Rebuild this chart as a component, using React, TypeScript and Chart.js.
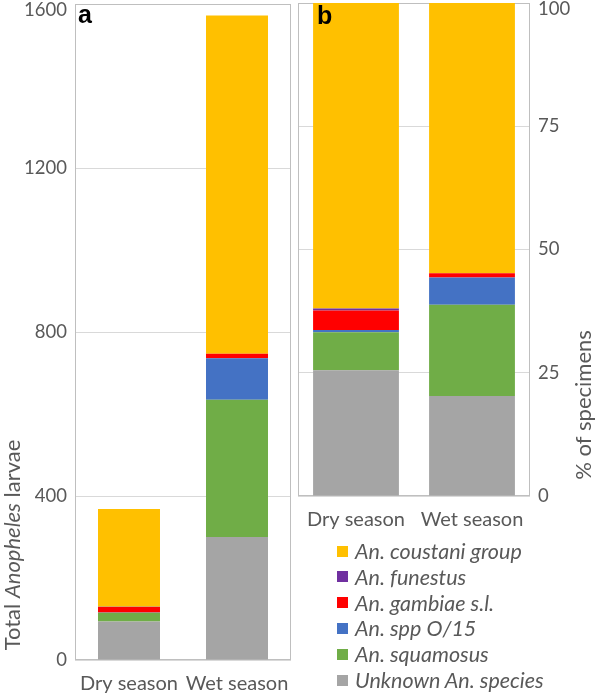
import React, { useEffect, useRef } from 'react';
import { Chart, registerables } from 'chart.js';

Chart.register(...registerables);

// ---------- data ----------
const seasons = ['Dry season', 'Wet season'];

// stack order: bottom -> top
const seriesNames = [
  'Unknown An. species',
  'An. squamosus',
  'An. spp O/15',
  'An. gambiae s.l.',
  'An. funestus',
  'An. coustani group',
];
const seriesColors = ['#A5A5A5', '#70AD47', '#4472C4', '#FF0000', '#7030A0', '#FFC000'];

// panel a: total larvae [dry, wet]
const unknownCounts = [94, 300];
const squamosusCounts = [21, 335];
const sppCounts = [1, 101];
const gambiaeCounts = [13, 11];
const funestusCounts = [1, 0];
const coustaniCounts = [238, 825];

// panel b: % of specimens [dry, wet]
const unknownPct = [25.5, 20.3];
const squamosusPct = [7.7, 18.5];
const sppPct = [0.45, 5.5];
const gambiaePct = [4.0, 0.9];
const funestusPct = [0.4, 0];
const coustaniPct = [61.95, 54.8];

const countTicks = [0, 400, 800, 1200, 1600];
const pctTicks = [0, 25, 50, 75, 100];

const countSeries = [unknownCounts, squamosusCounts, sppCounts, gambiaeCounts, funestusCounts, coustaniCounts];
const pctSeries = [unknownPct, squamosusPct, sppPct, gambiaePct, funestusPct, coustaniPct];

// ---------- style ----------
const FONT = 'Lato, "Noto Sans", sans-serif';
const TEXT = '#595959';
const GRID = '#D9D9D9';
const FRAME = '#BFBFBF';
const YTICK_SIZE = 18.5;
const XTICK_SIZE = 20;

type TitlePart = [string, boolean];

interface PanelSpec {
  series: number[][];
  ticks: number[];
  side: 'left' | 'right';
  barFrac: number;
  pad: { top: number; left: number; right: number; bottom: number };
  yWidth: number;
  xHeight: number;
  letter: string;
  letterX: number;
  letterY: number;
  title: TitlePart[];
  titleX: number;
  titleY: number;
  titleSize: number;
}

function buildConfig(spec: PanelSpec): any {
  const max = spec.ticks[spec.ticks.length - 1];
  const frame = {
    id: 'frame',
    beforeDatasetsDraw(chart: any) {
      const { ctx, chartArea: a } = chart;
      ctx.save();
      ctx.strokeStyle = FRAME;
      ctx.lineWidth = 1;
      ctx.strokeRect(Math.round(a.left) + 0.5, Math.round(a.top) + 0.5, Math.round(a.width) - 1, Math.round(a.height) - 1);
      ctx.restore();
    },
  };
  const texts = {
    id: 'texts',
    afterDraw(chart: any) {
      const ctx = chart.ctx;
      ctx.save();
      // panel letter
      ctx.fillStyle = '#000000';
      ctx.font = 'bold 25px "Liberation Sans", Arial, sans-serif';
      ctx.textAlign = 'left';
      ctx.textBaseline = 'alphabetic';
      ctx.fillText(spec.letter, spec.letterX, spec.letterY);
      // axis title (rotated, mixed italic)
      ctx.translate(spec.titleX, spec.titleY);
      ctx.rotate(-Math.PI / 2);
      ctx.fillStyle = TEXT;
      const fontFor = (it: boolean) => `${it ? 'italic ' : ''}${spec.titleSize}px ${FONT}`;
      let total = 0;
      for (const [s, it] of spec.title) {
        ctx.font = fontFor(it);
        total += ctx.measureText(s).width;
      }
      let x = -total / 2;
      for (const [s, it] of spec.title) {
        ctx.font = fontFor(it);
        ctx.fillText(s, x, 0);
        x += ctx.measureText(s).width;
      }
      ctx.restore();
    },
  };
  return {
    type: 'bar',
    data: {
      labels: seasons,
      datasets: spec.series.map((vals, i) => ({
        label: seriesNames[i],
        data: vals,
        backgroundColor: seriesColors[i],
        borderWidth: 0,
        barPercentage: spec.barFrac,
        categoryPercentage: 1,
      })),
    },
    options: {
      responsive: false,
      animation: false,
      devicePixelRatio: 1,
      layout: { padding: spec.pad },
      plugins: { legend: { display: false }, tooltip: { enabled: false }, title: { display: false } },
      scales: {
        x: {
          stacked: true,
          grid: { display: false, drawTicks: false },
          border: { display: false },
          ticks: { color: TEXT, font: { family: FONT, size: XTICK_SIZE }, padding: 12, maxRotation: 0 },
          afterFit(s: any) {
            s.height = spec.xHeight;
            s.paddingLeft = 0;
            s.paddingRight = 0;
          },
        },
        y: {
          stacked: true,
          position: spec.side,
          min: 0,
          max,
          grid: { color: GRID, lineWidth: 1, drawTicks: false },
          border: { display: false },
          afterBuildTicks(s: any) {
            s.ticks = spec.ticks.map((v) => ({ value: v }));
          },
          ticks: {
            color: TEXT,
            padding: 8,
            font: (c: any) => ({
              family: FONT,
              size: YTICK_SIZE,
              lineHeight: c.tick && c.tick.value === max ? 0.6 : 1.2,
            }),
            callback: (v: any) => (v === max ? ['', String(v)] : String(v)),
          },
          afterFit(s: any) {
            s.width = spec.yWidth;
            s.paddingTop = 0;
            s.paddingBottom = 0;
          },
        },
      },
    },
    plugins: [frame, texts],
  };
}

const panelA: PanelSpec = {
  series: countSeries,
  ticks: countTicks,
  side: 'left',
  barFrac: 0.574,
  pad: { top: 4, left: 0, right: 4, bottom: 0 },
  yWidth: 75,
  xHeight: 35,
  letter: 'a',
  letterX: 78,
  letterY: 23,
  title: [
    ['Total ', false],
    ['Anopheles', true],
    [' larvae', false],
  ],
  titleX: 20,
  titleY: 545,
  titleSize: 22,
};

const panelB: PanelSpec = {
  series: pctSeries,
  ticks: pctTicks,
  side: 'right',
  barFrac: 0.74,
  pad: { top: 3, left: 3, right: 0, bottom: 0 },
  yWidth: 67,
  xHeight: 199,
  letter: 'b',
  letterX: 22,
  letterY: 24,
  title: [['% of specimens', false]],
  titleX: 296,
  titleY: 405,
  titleSize: 22,
};

function ChartCanvas({ spec, left, width }: { spec: PanelSpec; left: number; width: number }) {
  const ref = useRef<HTMLCanvasElement | null>(null);
  useEffect(() => {
    if (!ref.current) return;
    const chart = new Chart(ref.current, buildConfig(spec));
    return () => chart.destroy();
  }, [spec]);
  return (
    <canvas
      ref={ref}
      width={width}
      height={695}
      style={{ position: 'absolute', left, top: 0, width, height: 695 }}
    />
  );
}

function Legend() {
  const order = seriesNames.map((_, i) => i).reverse();
  return (
    <div style={{ position: 'absolute', left: 337, top: 538, width: 258 }}>
      {order.map((i, k) => (
        <div
          key={seriesNames[i]}
          style={{
            position: 'absolute',
            left: 0,
            top: k * 25.8,
            height: 26,
            display: 'flex',
            alignItems: 'center',
            whiteSpace: 'nowrap',
          }}
        >
          <span style={{ display: 'inline-block', width: 11, height: 11, background: seriesColors[i], marginRight: 7 }} />
          <span style={{ fontFamily: FONT, fontStyle: 'italic', fontSize: 21.5, color: TEXT, lineHeight: '26px' }}>
            {seriesNames[i]}
          </span>
        </div>
      ))}
    </div>
  );
}

export default function App() {
  return (
    <div style={{ position: 'absolute', left: 0, top: 0, width: 597, height: 695, background: '#ffffff', overflow: 'hidden' }}>
      <ChartCanvas spec={panelA} left={0} width={295} />
      <ChartCanvas spec={panelB} left={295} width={302} />
      <Legend />
    </div>
  );
}
